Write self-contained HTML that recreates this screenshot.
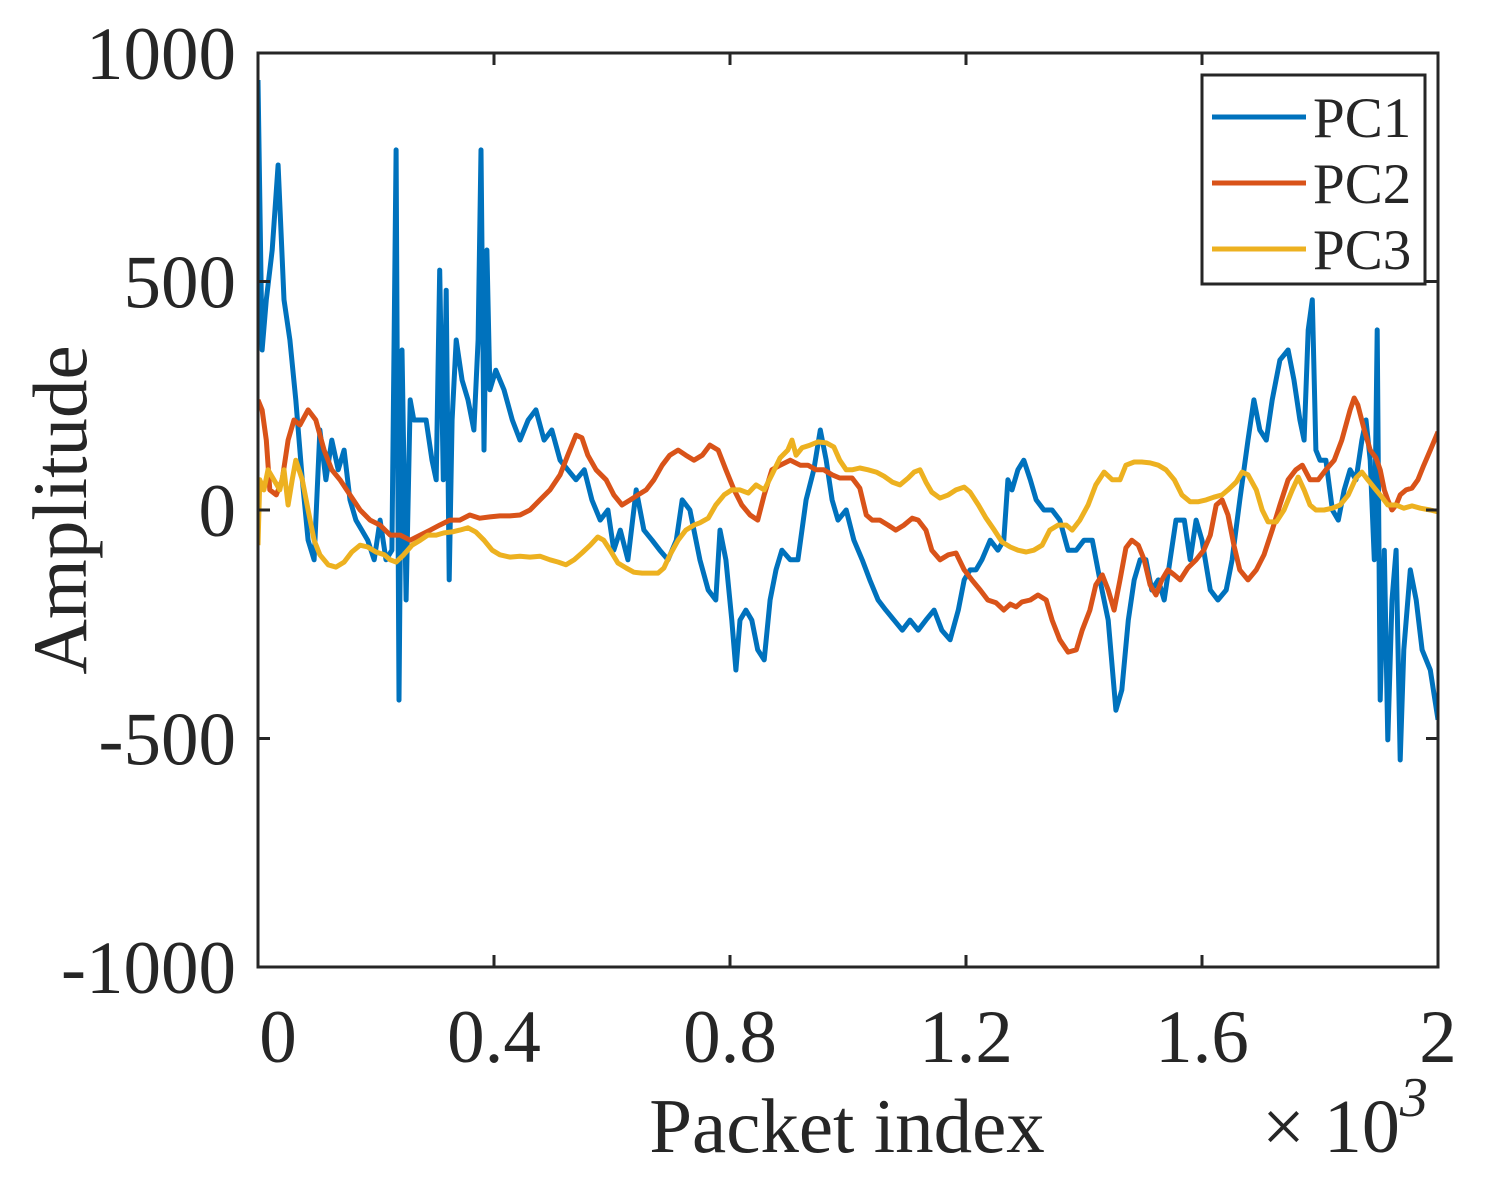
<!DOCTYPE html>
<html><head><meta charset="utf-8"><style>
html,body{margin:0;padding:0;background:#fff}
svg text{font-family:"Liberation Serif",serif;fill:#262626}
</style></head><body>
<svg id="chart" width="1489" height="1177" viewBox="0 0 1489 1177" xmlns="http://www.w3.org/2000/svg">
<rect x="0" y="0" width="1489" height="1177" fill="#fff"/>
<g id="series"></g>
<g id="axes"></g>
<g id="legend"></g>
</svg>
<script>
const xTicks=[0,400,800,1200,1600,2000];
const xTickLabels=["0","0.4","0.8","1.2","1.6","2"];
const yTicks=[-1000,-500,0,500,1000];
const yTickLabels=["-1000","-500","0","500","1000"];
const seriesNames=["PC1","PC2","PC3"];
const pc1X=[0,7,14,24,34,44,54,64,75,85,95,105,115,125,136,146,156,166,176,186,197,207,217,227,234,239,244,251,258,264,275,285,295,302,308,314,319,324,329,336,346,356,366,373,378,383,388,393,403,417,431,444,458,471,485,498,512,525,539,553,566,580,593,603,614,627,641,654,668,681,695,709,719,732,749,763,776,783,793,803,810,817,827,837,847,858,868,878,888,902,915,929,942,953,963,973,983,997,1010,1024,1037,1051,1064,1078,1092,1105,1119,1132,1146,1159,1173,1187,1197,1207,1217,1227,1241,1254,1264,1271,1278,1288,1298,1309,1319,1332,1346,1359,1373,1387,1400,1414,1427,1441,1454,1464,1475,1485,1495,1505,1515,1526,1536,1546,1556,1570,1580,1590,1600,1614,1627,1641,1651,1664,1678,1688,1698,1709,1719,1732,1746,1756,1766,1773,1780,1787,1793,1800,1810,1821,1831,1841,1851,1861,1871,1878,1885,1892,1897,1902,1909,1915,1922,1929,1936,1942,1953,1963,1973,1987,2000];
const pc1Y=[941,350,460,569,755,460,372,241,66,-66,-109,175,66,153,88,131,22,-22,-44,-66,-109,-22,-109,-88,788,-416,350,-197,241,197,197,197,109,66,525,66,481,-153,197,372,284,241,175,372,788,131,569,263,306,263,197,153,197,219,153,175,109,88,66,88,22,-22,0,-88,-44,-109,44,-44,-66,-88,-109,-66,22,0,-109,-175,-197,-44,-109,-241,-350,-241,-219,-241,-306,-328,-197,-131,-88,-109,-109,22,88,175,109,22,-22,0,-66,-109,-153,-197,-219,-241,-263,-241,-263,-241,-219,-263,-284,-219,-153,-131,-131,-109,-66,-88,-66,66,44,88,109,66,22,0,0,-22,-88,-88,-66,-66,-153,-241,-438,-394,-241,-153,-109,-109,-175,-153,-197,-109,-22,-22,-109,-22,-66,-175,-197,-175,-109,22,153,241,175,153,241,328,350,284,197,153,394,460,131,109,109,0,-22,44,88,66,153,197,109,-109,394,-416,-88,-503,-197,-88,-547,-306,-131,-197,-306,-350,-459];
const pc2X=[0,7,14,20,31,41,51,61,71,85,98,112,125,139,156,173,190,207,224,241,258,275,292,308,325,342,359,376,393,410,427,444,461,478,495,512,525,539,549,559,573,590,603,617,631,644,658,671,685,698,712,725,739,753,766,780,793,807,820,834,847,858,871,885,902,919,932,946,959,973,986,997,1007,1020,1031,1041,1054,1068,1081,1095,1109,1119,1132,1142,1156,1170,1183,1197,1210,1224,1237,1251,1264,1275,1285,1295,1309,1322,1336,1346,1359,1373,1387,1397,1410,1420,1431,1441,1451,1461,1471,1481,1492,1502,1512,1522,1532,1542,1553,1563,1576,1590,1603,1614,1624,1634,1644,1654,1664,1678,1692,1705,1719,1732,1746,1759,1770,1783,1797,1810,1824,1837,1851,1858,1864,1875,1885,1895,1902,1909,1915,1922,1929,1936,1946,1956,1966,1976,1987,2000];
const pc2Y=[241,219,153,44,33,66,153,197,186,219,197,131,88,66,33,0,-22,-33,-55,-55,-66,-55,-44,-33,-22,-22,-11,-18,-15,-13,-13,-11,0,22,44,77,120,164,158,120,88,66,33,11,22,33,44,66,98,120,131,120,109,120,142,131,88,44,11,-11,-22,33,88,98,109,98,98,88,88,77,70,70,70,48,-11,-22,-22,-33,-44,-33,-18,-22,-44,-88,-109,-98,-94,-131,-153,-175,-197,-203,-219,-206,-212,-201,-197,-186,-197,-241,-284,-311,-306,-263,-219,-164,-142,-175,-219,-153,-83,-66,-77,-109,-164,-186,-153,-131,-142,-153,-127,-109,-88,-55,11,22,-11,-77,-131,-153,-131,-98,-44,11,66,88,98,66,66,88,109,153,219,245,230,175,131,114,88,44,22,0,11,33,44,48,66,98,131,171];
const pc3X=[0,3,10,17,27,37,44,51,58,64,75,85,95,105,119,132,146,159,173,186,200,214,224,234,247,261,275,288,302,315,329,342,356,369,383,397,410,427,444,461,478,495,509,522,536,549,563,576,586,597,610,624,637,651,664,678,688,698,712,725,739,749,763,776,790,803,817,831,844,858,871,885,898,905,912,922,936,949,963,976,986,997,1007,1020,1034,1048,1061,1075,1088,1102,1112,1122,1132,1142,1156,1170,1183,1197,1207,1221,1234,1248,1261,1275,1288,1302,1315,1329,1342,1356,1370,1380,1393,1407,1420,1434,1448,1461,1471,1485,1498,1512,1526,1539,1553,1566,1580,1593,1607,1620,1634,1644,1658,1668,1678,1692,1702,1712,1726,1739,1753,1763,1773,1783,1793,1807,1821,1834,1848,1861,1871,1881,1895,1905,1915,1929,1942,1956,1970,1987,2000];
const pc3Y=[-77,66,44,88,66,44,88,11,66,109,66,0,-66,-98,-120,-125,-114,-92,-77,-81,-92,-98,-109,-114,-98,-77,-66,-55,-55,-50,-48,-44,-39,-48,-66,-88,-98,-103,-101,-103,-101,-109,-114,-120,-109,-94,-77,-59,-66,-88,-116,-127,-136,-138,-138,-138,-127,-99,-66,-44,-33,-28,-18,11,33,44,44,37,55,44,77,114,131,153,120,136,142,149,147,138,109,88,88,92,88,83,74,61,55,70,83,88,61,39,26,33,44,50,39,11,-18,-44,-70,-81,-88,-92,-88,-77,-44,-33,-33,-44,-22,11,55,83,66,66,98,105,105,103,98,88,66,33,18,18,22,28,33,44,61,83,77,44,0,-26,-26,0,44,72,44,11,0,0,4,11,33,70,83,66,44,28,11,11,4,9,4,0,-4];

const L=258,R=1438,T=53,B=967;
const xScale=v=>L+(v-0)/(2000-0)*(R-L);
const yScale=v=>B-(v+1000)/2000*(B-T);
const colors=["#0072BD","#D95319","#EDB120"];
const NS="http://www.w3.org/2000/svg";
function mk(tag,attrs,parent){const e=document.createElementNS(NS,tag);for(const k in attrs)e.setAttribute(k,attrs[k]);parent.appendChild(e);return e;}

const sg=document.getElementById('series');
const clip=mk('clipPath',{id:'pc'},document.getElementById('chart'));
mk('rect',{x:L,y:T,width:R-L,height:B-T},clip);
const allX=[pc1X,pc2X,pc3X],allY=[pc1Y,pc2Y,pc3Y];
for(let s=0;s<3;s++){
  const d=allX[s].map((x,i)=>(i?'L':'M')+xScale(x).toFixed(1)+','+yScale(allY[s][i]).toFixed(1)).join('');
  const p=mk('path',{d:d,fill:'none',stroke:colors[s],'stroke-width':5,'stroke-linejoin':'round','clip-path':'url(#pc)'},sg);
  
  
}

const ag=document.getElementById('axes');
const box=mk('rect',{x:L,y:T,width:R-L,height:B-T,fill:'none',stroke:'#262626','stroke-width':3},ag);


xTicks.forEach((t,i)=>{
  const x=xScale(t);
  mk('line',{x1:x,y1:B,x2:x,y2:B-12,stroke:'#262626','stroke-width':3},ag);
  mk('line',{x1:x,y1:T,x2:x,y2:T+12,stroke:'#262626','stroke-width':3},ag);
  const tx=mk('text',{x:(i==0?x+20:x),y:1062,'text-anchor':'middle','font-size':75},ag);
  tx.textContent=xTickLabels[i];
  
  
});
yTicks.forEach((t,i)=>{
  const y=yScale(t);
  mk('line',{x1:L,y1:y,x2:L+12,y2:y,stroke:'#262626','stroke-width':3},ag);
  mk('line',{x1:R,y1:y,x2:R-12,y2:y,stroke:'#262626','stroke-width':3},ag);
  const tx=mk('text',{x:236,y:y+26,'text-anchor':'end','font-size':75},ag);
  tx.textContent=yTickLabels[i];
  
  
});
const xl=mk('text',{x:847,y:1152,'text-anchor':'middle','font-size':77},ag);
xl.textContent='Packet index';


const ex=mk('text',{x:1262,y:1152,'font-size':76},ag);
ex.innerHTML='× 10<tspan dy="-36" font-size="56" font-style="italic">3</tspan>';


const yl=mk('text',{x:0,y:0,'text-anchor':'middle','font-size':77,transform:'translate(86,510) rotate(-90)'},ag);
yl.textContent='Amplitude';



const lg=document.getElementById('legend');
const lb=mk('rect',{x:1202,y:75,width:223,height:209,fill:'#fff',stroke:'#262626','stroke-width':3},lg);


seriesNames.forEach((n,i)=>{
  const y=117+i*66;
  const g=mk('g',{},lg);
  
  
  mk('line',{x1:1212,y1:y,x2:1306,y2:y,stroke:colors[i],'stroke-width':5},g);
  const t=mk('text',{x:1313,y:y+20,'font-size':57},g);
  t.textContent=n;
});
</script>
</body></html>
